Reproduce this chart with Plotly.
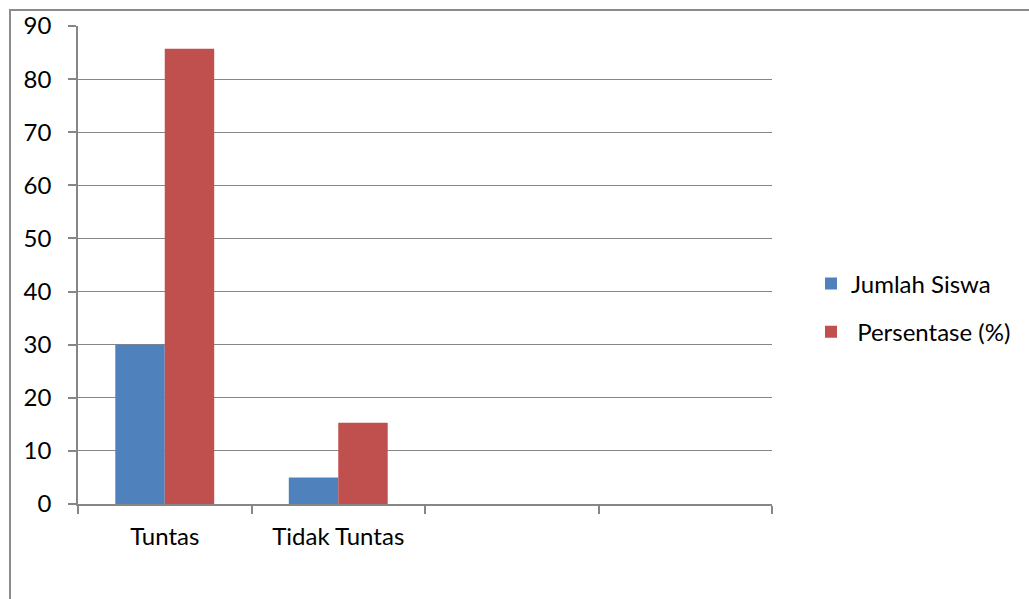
import plotly.graph_objects as go

categories = ["Tuntas", "Tidak Tuntas"]
empty_slots = [" ", "  "]
jumlah_siswa = [30, 5]
persentase = [85.7, 15.3]
series_names = ["Jumlah Siswa", " Persentase (%)"]
y_ticks = [0, 10, 20, 30, 40, 50, 60, 70, 80, 90]

BLUE = "#4F81BD"
RED = "#C0504D"
GRID = "#868686"
FONT = "Lato"

fig = go.Figure()
fig.add_trace(go.Bar(x=categories, y=jumlah_siswa, name=series_names[0],
                     marker=dict(color=BLUE, line=dict(width=0)), legendgroup="a"))
fig.add_trace(go.Bar(x=categories, y=persentase, name=series_names[1],
                     marker=dict(color=RED, line=dict(width=0)), legendgroup="b"))

W, H = 1029, 599
L, R, T, B = 78, 257, 26, 95
pw = W - L - R
ph = H - T - B

def px_to_paper_x(px):
    return (px - L) / pw

def px_to_paper_y(py):
    return (H - B - py) / ph

fig.update_layout(
    width=W, height=H,
    margin=dict(l=L, r=R, t=T, b=B, pad=0, autoexpand=False),
    paper_bgcolor="white", plot_bgcolor="white",
    barmode="group", bargap=0.43, bargroupgap=0,
    font=dict(family=FONT, size=24, color="black"),
    showlegend=True,
    legend=dict(x=px_to_paper_x(811), y=px_to_paper_y(308), xanchor="left", yanchor="middle",
                font=dict(family=FONT, size=24, color="black"), tracegroupgap=14,
                bgcolor="rgba(0,0,0,0)"),
    xaxis=dict(type="category", categoryorder="array",
               categoryarray=categories + empty_slots, automargin=False,
               range=[-0.5, 3.5], showline=True, linecolor=GRID, linewidth=1.5,
               ticks="outside", tickson="boundaries", ticklen=8, tickcolor=GRID, tickwidth=1.5,
               showgrid=False, ticklabelstandoff=10,
               tickfont=dict(family=FONT, size=24, color="black")),
    yaxis=dict(range=[0, 90], tickvals=y_ticks, showline=True, linecolor=GRID, linewidth=1.5,
               ticks="outside", ticklen=8, tickcolor=GRID, tickwidth=1.5, automargin=False,
               showgrid=True, gridcolor=GRID, gridwidth=1, zeroline=False,
               ticklabelstandoff=12,
               tickfont=dict(family=FONT, size=24, color="black")),
    shapes=[dict(type="rect", xref="paper", yref="paper",
                 x0=px_to_paper_x(10), x1=px_to_paper_x(1200),
                 y0=px_to_paper_y(800), y1=px_to_paper_y(10),
                 line=dict(color="#8C8C8C", width=2), fillcolor="rgba(0,0,0,0)", layer="below")],
)

fig.write_html("out.html")
